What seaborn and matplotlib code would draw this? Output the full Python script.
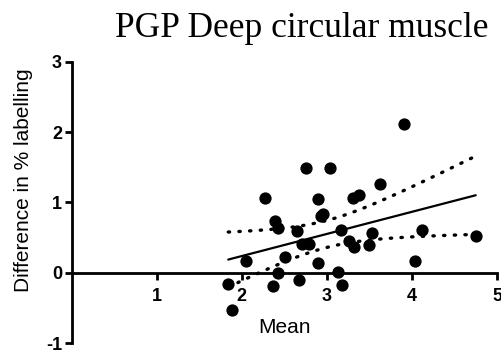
import numpy as np
import pandas as pd
import matplotlib.pyplot as plt
import seaborn as sns

# valori (Mean vs differenza in % labelling)
mean_vals = [3.91, 2.75, 3.04, 3.63, 2.27, 2.89, 3.31, 3.38, 2.95, 2.93, 2.39,
             2.43, 2.65, 3.16, 3.53, 4.12, 4.75, 3.26, 3.32, 3.49, 2.71, 2.79,
             2.51, 2.05, 2.89, 4.04, 2.43, 3.13, 1.84, 2.37, 2.67, 3.18, 1.88]
diff_vals = [2.11, 1.49, 1.49, 1.26, 1.06, 1.05, 1.06, 1.11, 0.84, 0.81, 0.73,
             0.64, 0.60, 0.61, 0.56, 0.61, 0.52, 0.45, 0.36, 0.39, 0.41, 0.41,
             0.22, 0.17, 0.14, 0.17, 0.00, 0.01, -0.16, -0.19, -0.10, -0.18, -0.53]

x_ticks = [1, 2, 3, 4, 5]
y_ticks = [-1, 0, 1, 2, 3]
T_CRIT = 2.04  # t(0.975, df=31)

df = pd.DataFrame({'Mean': mean_vals, 'Diff': diff_vals})

sns.set_theme(style="ticks")
plt.rcParams['font.family'] = ['Liberation Sans', 'DejaVu Sans']
plt.rcParams['axes.unicode_minus'] = False
plt.rcParams['text.color'] = 'black'
plt.rcParams['xtick.color'] = 'black'
plt.rcParams['ytick.color'] = 'black'
plt.rcParams['axes.edgecolor'] = 'black'

fig = plt.figure(figsize=(5.02, 3.56), dpi=100)
ax = fig.add_axes([0.143, 0.0365, 0.847, 0.7895])

sns.regplot(data=df, x='Mean', y='Diff', ci=None, ax=ax,
            scatter_kws={'s': 78, 'color': 'black', 'linewidths': 0, 'alpha': 1},
            line_kws={'color': 'black', 'linewidth': 1.6})

# banda di confidenza 95% della retta (tratteggiata a punti)
x = df['Mean'].to_numpy()
y = df['Diff'].to_numpy()
n = len(x)
b1, b0 = np.polyfit(x, y, 1)
resid = y - (b0 + b1 * x)
s = np.sqrt(np.sum(resid ** 2) / (n - 2))
xs = np.linspace(x.min(), x.max(), 100)
se = s * np.sqrt(1 / n + (xs - x.mean()) ** 2 / np.sum((x - x.mean()) ** 2))
fit = b0 + b1 * xs
for band in (fit + T_CRIT * se, fit - T_CRIT * se):
    ax.plot(xs, band, color='black', linewidth=2.4, linestyle=(0, (0.4, 2.8)),
            dash_capstyle='round')

ax.set_xlim(0, 5)
ax.set_ylim(-1, 3)
ax.set_xticks(x_ticks)
ax.set_yticks(y_ticks)
ax.set_xlabel('')
ax.set_ylabel('')

ax.spines['top'].set_visible(False)
ax.spines['right'].set_visible(False)
ax.spines['bottom'].set_position(('data', 0))
ax.spines['left'].set_linewidth(2)
ax.spines['bottom'].set_linewidth(2)
ax.tick_params(axis='both', width=2, length=5, direction='out', colors='black',
               labelsize=13)
ax.tick_params(axis='x', pad=6)
ax.tick_params(axis='y', pad=2)
plt.setp(ax.get_xticklabels(), fontweight='bold')
plt.setp(ax.get_yticklabels(), fontweight='bold')
ax.patch.set_alpha(0)

fig.text(0.567, 0.079, 'Mean', ha='center', va='center', fontsize=15)
fig.text(0.046, 0.494, 'Difference in % labelling', ha='center', va='center',
         rotation=90, fontsize=15)
fig.text(0.602, 0.966, 'PGP Deep circular muscle', ha='center', va='top',
         fontsize=25.5, family=['Liberation Serif', 'DejaVu Serif'])

fig.savefig('out.png', dpi=100)
